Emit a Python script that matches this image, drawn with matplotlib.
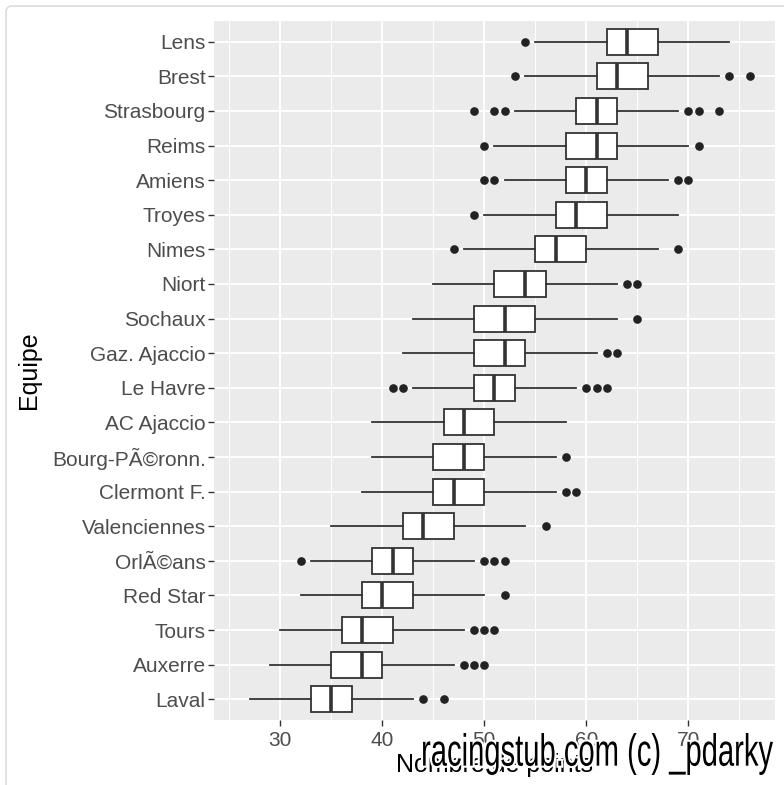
import numpy as np
import matplotlib.pyplot as plt
from matplotlib.patches import FancyBboxPatch, PathPatch
from matplotlib.textpath import TextPath
from matplotlib.font_manager import FontProperties
from matplotlib.transforms import Affine2D

plt.rcParams['font.family'] = ['Liberation Sans', 'DejaVu Sans']

# teams from top to bottom
teams = ['Lens', 'Brest', 'Strasbourg', 'Reims', 'Amiens', 'Troyes', 'Nimes',
         'Niort', 'Sochaux', 'Gaz. Ajaccio', 'Le Havre', 'AC Ajaccio',
         'Bourg-PÃ©ronn.', 'Clermont F.', 'Valenciennes', 'OrlÃ©ans',
         'Red Star', 'Tours', 'Auxerre', 'Laval']
whis_lo = [55, 54, 53, 51, 52, 50, 48, 45, 43, 42, 43, 39, 39, 38, 35, 33, 32, 30, 29, 27]
q1 = [62, 61, 59, 58, 58, 57, 55, 51, 49, 49, 49, 46, 45, 45, 42, 39, 38, 36, 35, 33]
med = [64, 63, 61, 61, 60, 59, 57, 54, 52, 52, 51, 48, 48, 47, 44, 41, 40, 38, 38, 35]
q3 = [67, 66, 63, 63, 62, 62, 60, 56, 55, 54, 53, 51, 50, 50, 47, 43, 43, 41, 40, 37]
whis_hi = [74, 73, 69, 70, 68, 69, 67, 63, 63, 61, 59, 58, 57, 57, 54, 49, 50, 48, 47, 43]
fliers = [[54], [53, 74, 76], [49, 51, 52, 70, 71, 73], [50, 71], [50, 51, 69, 70],
          [49], [47, 69], [64, 65], [65], [62, 63], [41, 42, 60, 61, 62], [],
          [58], [58, 59], [56], [32, 50, 51, 52], [52], [49, 50, 51],
          [48, 49, 50], [44, 46]]

W, H = 784, 785
fig = plt.figure(figsize=(W / 100, H / 100), dpi=100)
fig.patch.set_facecolor('white')

# screenshot frame
frame = FancyBboxPatch((6 / W, -0.05), (W + 20) / W, 1 - 6 / H + 0.05,
                       boxstyle='round,pad=0,rounding_size=0.008',
                       transform=fig.transFigure, facecolor='none',
                       edgecolor='#dcdcdc', linewidth=1.2)
fig.add_artist(frame)

ax = fig.add_axes([214 / W, 1 - 720 / H, (775 - 214) / W, (720 - 21) / H])
ax.set_facecolor('#EBEBEB')

n = len(teams)
pos = np.arange(n, 0, -1)
stats = []
for i in range(n):
    stats.append(dict(label=teams[i], whislo=whis_lo[i], q1=q1[i], med=med[i],
                      q3=q3[i], whishi=whis_hi[i], fliers=fliers[i]))

edge = '#333333'
ax.bxp(stats, positions=pos, vert=False, widths=0.75, patch_artist=True,
       showcaps=False,
       boxprops=dict(facecolor='white', edgecolor=edge, linewidth=1.3),
       whiskerprops=dict(color=edge, linewidth=1.3),
       medianprops=dict(color=edge, linewidth=2.6),
       flierprops=dict(marker='o', markerfacecolor='#222222', markeredgecolor='#222222',
                       markersize=5.2, linestyle='none'),
       zorder=3)

ax.set_xlim(23.5, 78.5)
ax.set_ylim(0.4, n + 0.6)
ax.set_xticks([30, 40, 50, 60, 70])
ax.set_xticks([25, 35, 45, 55, 65, 75], minor=True)
ax.set_yticks(pos)
ax.set_yticklabels(teams)
ax.grid(which='major', color='white', linewidth=1.4, zorder=0)
ax.grid(which='minor', axis='x', color='white', linewidth=0.7, zorder=0)
ax.set_axisbelow(True)
for s in ax.spines.values():
    s.set_visible(False)
ax.tick_params(which='major', colors='#333333', length=4, width=1,
               labelsize=15, labelcolor='#4D4D4D', pad=2)
ax.tick_params(axis='x', which='major', pad=4)
ax.tick_params(which='minor', length=0)

ax.set_xlabel('Nombre de points', fontsize=18, color='black', labelpad=2)
ax.set_ylabel('Equipe', fontsize=18, color='black', labelpad=8)

# watermark
fp = FontProperties(family='Liberation Sans')
tp = TextPath((0, 0), 'racingstub.com (c) _pdarky', size=40, prop=fp)
ext = tp.get_extents()
sx = 350 / ext.width
sy = 42 / ext.height
x0, y0 = 423, H - 775
tr = Affine2D().translate(-ext.x0, -ext.y0).scale(sx / W, sy / H) \
    .translate(x0 / W, y0 / H) + fig.transFigure
fig.add_artist(PathPatch(tp, transform=tr, facecolor='none', edgecolor='white',
                         linewidth=3.0, zorder=10))
fig.add_artist(PathPatch(tp, transform=tr, facecolor='black', edgecolor='none',
                         zorder=11))

fig.savefig('out.png', dpi=100)
